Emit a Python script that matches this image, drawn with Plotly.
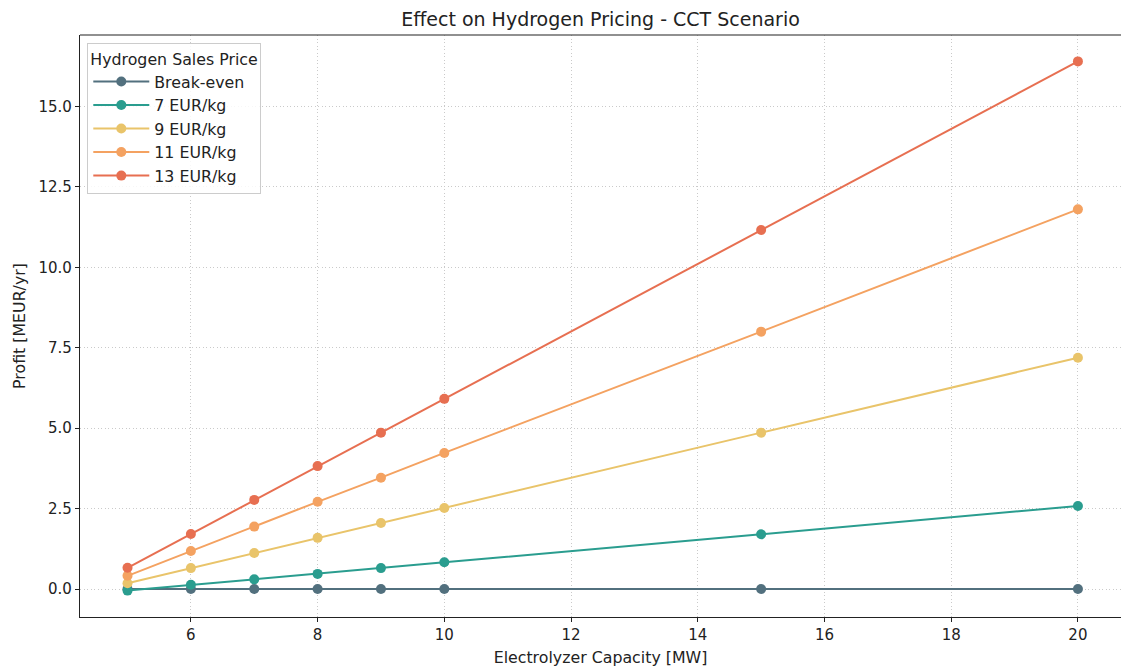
import plotly.graph_objects as go

capacity_mw = [5, 6, 7, 8, 9, 10, 15, 20]
series_names = ["Break-even", "7 EUR/kg", "9 EUR/kg", "11 EUR/kg", "13 EUR/kg"]
profit_break_even = [0.0, 0.0, 0.0, 0.0, 0.0, 0.0, 0.0, 0.0]
profit_7 = [-0.05, 0.13, 0.30, 0.47, 0.65, 0.83, 1.70, 2.58]
profit_9 = [0.18, 0.65, 1.12, 1.59, 2.05, 2.52, 4.86, 7.19]
profit_11 = [0.41, 1.18, 1.94, 2.71, 3.46, 4.23, 8.00, 11.80]
profit_13 = [0.66, 1.71, 2.77, 3.82, 4.86, 5.91, 11.16, 16.40]
series_values = [profit_break_even, profit_7, profit_9, profit_11, profit_13]
colors = ["#52707e", "#2a9d8f", "#e9c46a", "#f4a261", "#e76f51"]
y_ticks = [0.0, 2.5, 5.0, 7.5, 10.0, 12.5, 15.0]
x_ticks = [6, 8, 10, 12, 14, 16, 18, 20]

FONT = "DejaVu Sans"
fig = go.Figure()
for i, (name, vals, col) in enumerate(zip(series_names, series_values, colors)):
    fig.add_trace(go.Scatter(
        x=capacity_mw, y=vals, name=name, mode="lines+markers",
        line=dict(color=col, width=2),
        marker=dict(color=col, size=10),
    ))

axis_common = dict(
    showgrid=True, gridcolor="#cacaca", griddash="1px,2.5px", gridwidth=1,
    zeroline=False, showline=True, linecolor="#222222", linewidth=1.2,
    ticks="outside", ticklen=4, tickcolor="#222222", tickwidth=1,
    tickfont=dict(family=FONT, size=15, color="#222222"),
)

fig.update_layout(
    width=1121, height=669,
    margin=dict(l=80, r=0, t=35, b=52),
    plot_bgcolor="white", paper_bgcolor="white",
    font=dict(family=FONT, size=15, color="#222222"),
    title=dict(text="Effect on Hydrogen Pricing - CCT Scenario", x=0.5, xref="paper",
               y=1 - 19 / 669, yanchor="middle", font=dict(family=FONT, size=19, color="#222222")),
    xaxis=dict(range=[4.25, 20.68], tickvals=x_ticks, mirror=False,
               title=dict(text="Electrolyzer Capacity [MW]", standoff=8,
                          font=dict(family=FONT, size=15.8)), **axis_common),
    yaxis=dict(range=[-0.87, 17.22], tickvals=y_ticks, ticktext=[f"{v:.1f}" for v in y_ticks],
               mirror=False,
               title=dict(text="Profit [MEUR/yr]", standoff=8,
                          font=dict(family=FONT, size=15.8)), **axis_common),
    legend=dict(
        title=dict(text="Hydrogen Sales Price", font=dict(family=FONT, size=15.8)),
        x=0.007, y=0.986, xanchor="left", yanchor="top",
        bgcolor="rgba(255,255,255,0.85)", bordercolor="#cccccc", borderwidth=1,
        font=dict(family=FONT, size=15.8), itemwidth=56,
    ),
    showlegend=True,
)
# top spine
fig.add_shape(type="line", xref="paper", yref="paper", x0=0, x1=1, y0=1, y1=1,
              line=dict(color="#222222", width=1.2))

fig.write_html("out.html")
